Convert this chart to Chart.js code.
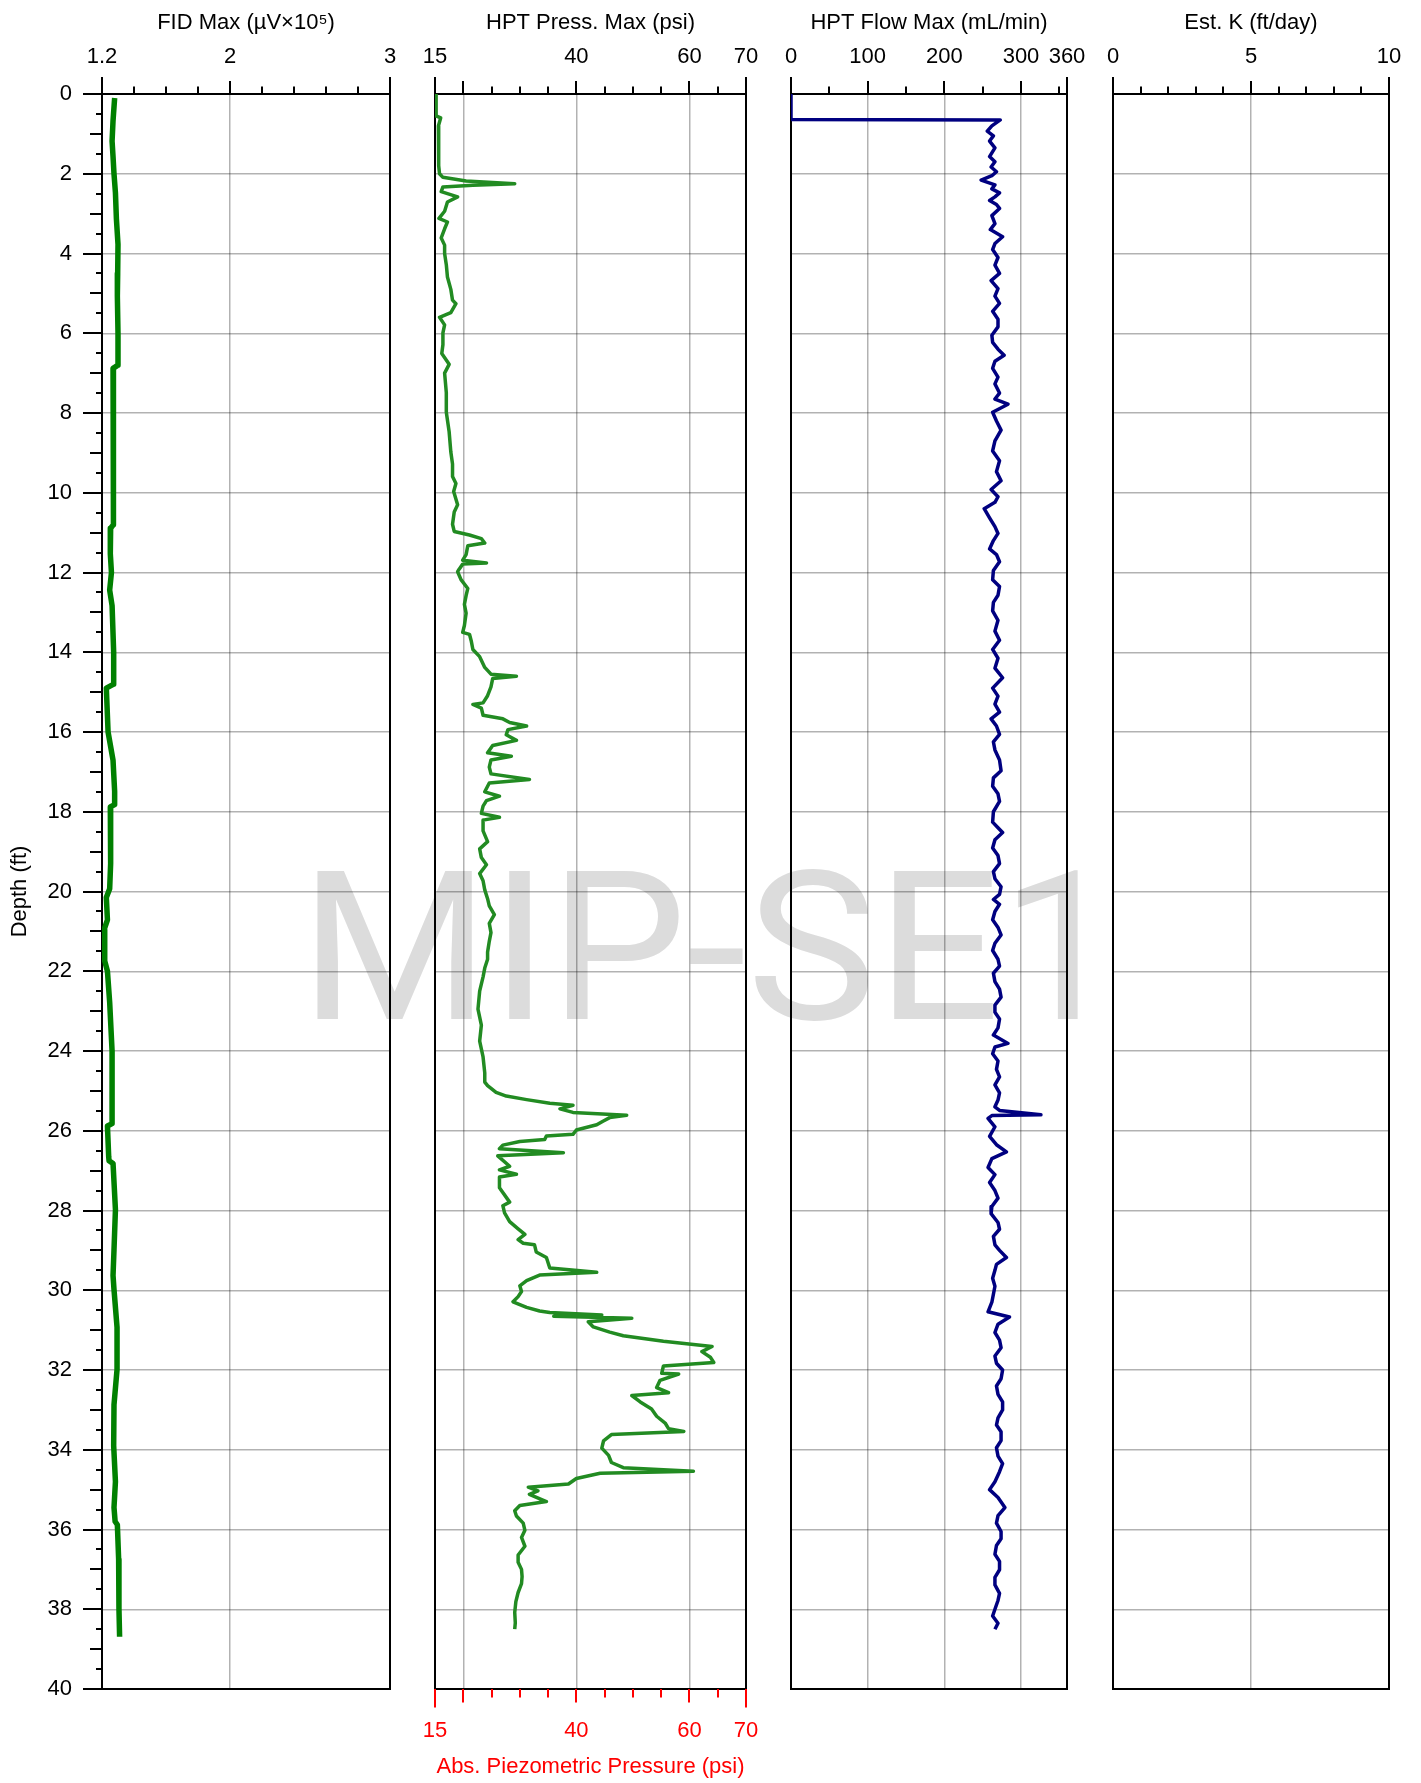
<!DOCTYPE html>
<html>
<head>
<meta charset="utf-8">
<title>MIP-SE1</title>
<script src="https://cdn.jsdelivr.net/npm/chart.js@4.4.1/dist/chart.umd.min.js"></script>
<style>
  html, body { margin: 0; padding: 0; background: #fff; }
  #log { position: relative; width: 1421px; height: 1783px; }
  #log canvas { position: absolute; left: 0; top: 0; }
</style>
</head>
<body>
<div id="log">
  <canvas id="fid" width="1421" height="1783"></canvas>
  <canvas id="press" width="1421" height="1783"></canvas>
  <canvas id="flow" width="1421" height="1783"></canvas>
  <canvas id="estk" width="1421" height="1783"></canvas>
</div>
<script>
'use strict';

// ---- log data (depth in ft) ----
const depthLabels = [0, 2, 4, 6, 8, 10, 12, 14, 16, 18, 20, 22, 24, 26, 28, 30, 32, 34, 36, 38, 40];

const fidTickLabels = [1.2, 2, 3];
const pressTickLabels = [15, 40, 60, 70];
const flowTickLabels = [0, 100, 200, 300, 360];
const kTickLabels = [0, 5, 10];

const fidDepth = [
  0.1, 0.67, 1.18, 1.57, 2.0, 2.48, 3.13, 3.77, 4.5, 5.07,
  6.0, 6.8, 6.88, 7.65, 8.95, 10.0, 10.8, 10.89, 11.53, 12.0,
  12.44, 12.83, 14.0, 14.8, 14.9, 16.0, 16.71, 17.49, 17.82, 17.88,
  19.3, 19.93, 20.15, 20.71, 20.96, 21.74, 22.0, 22.78, 24.0, 25.82,
  25.88, 26.66, 26.75, 26.82, 27.98, 28.99, 29.63, 29.98, 30.93, 31.99,
  32.87, 33.9, 34.8, 35.45, 35.8, 35.88, 36.75, 37.99, 38.69
];
const fidValue = [
  1.279, 1.269, 1.263, 1.269, 1.275, 1.284, 1.290, 1.300, 1.298, 1.296,
  1.300, 1.300, 1.269, 1.269, 1.273, 1.273, 1.271, 1.254, 1.252, 1.259,
  1.248, 1.263, 1.273, 1.273, 1.227, 1.238, 1.269, 1.279, 1.279, 1.252,
  1.254, 1.248, 1.227, 1.234, 1.213, 1.217, 1.234, 1.248, 1.263, 1.263,
  1.234, 1.242, 1.244, 1.269, 1.284, 1.275, 1.269, 1.275, 1.294, 1.294,
  1.275, 1.273, 1.284, 1.275, 1.282, 1.296, 1.304, 1.306, 1.310
];

const pressDepth = [
  0, 0.55, 0.6, 0.8, 1.0, 1.2, 1.5, 1.8, 2.0, 2.09,
  2.18, 2.25, 2.29, 2.33, 2.45, 2.58, 2.71, 2.94, 3.12, 3.21,
  3.38, 3.61, 3.79, 4.0, 4.28, 4.59, 4.9, 5.17, 5.26, 5.48,
  5.6, 5.79, 5.99, 6.29, 6.51, 6.78, 7.0, 7.49, 7.98, 8.47,
  8.98, 9.28, 9.59, 9.77, 9.97, 10.3, 10.48, 10.79, 10.97, 11.06,
  11.15, 11.26, 11.33, 11.55, 11.69, 11.76, 11.79, 11.91, 11.98, 12.18,
  12.4, 12.58, 12.8, 13.02, 13.33, 13.5, 13.55, 13.71, 13.93, 14.11,
  14.38, 14.55, 14.6, 14.66, 14.87, 15.09, 15.27, 15.31, 15.4, 15.58,
  15.67, 15.76, 15.85, 15.94, 16.07, 16.21, 16.34, 16.52, 16.61, 16.7,
  16.88, 17.05, 17.19, 17.28, 17.5, 17.61, 17.72, 17.86, 18.04, 18.14,
  18.21, 18.48, 18.75, 18.93, 19.15, 19.33, 19.55, 19.73, 19.96, 20.18,
  20.36, 20.58, 20.8, 21.03, 21.25, 21.52, 21.7, 21.92, 22.14, 22.5,
  22.95, 23.35, 23.75, 24.15, 24.55, 24.78, 24.87, 25.04, 25.13, 25.22,
  25.31, 25.36, 25.45, 25.54, 25.61, 25.67, 25.76, 25.85, 25.98, 26.09,
  26.13, 26.22, 26.27, 26.36, 26.45, 26.55, 26.63, 26.89, 26.98, 27.09,
  27.16, 27.43, 27.79, 27.88, 28.06, 28.28, 28.46, 28.6, 28.73, 28.82,
  28.86, 29.04, 29.18, 29.31, 29.44, 29.55, 29.62, 29.76, 29.89, 30.03,
  30.16, 30.29, 30.43, 30.52, 30.56, 30.62, 30.65, 30.7, 30.79, 30.92,
  31.05, 31.14, 31.28, 31.41, 31.54, 31.68, 31.81, 31.9, 32.08, 32.1,
  32.26, 32.44, 32.57, 32.64, 32.8, 32.98, 33.16, 33.33, 33.47, 33.54,
  33.62, 33.78, 33.96, 34.14, 34.32, 34.45, 34.54, 34.59, 34.72, 34.86,
  34.94, 35.03, 35.12, 35.3, 35.4, 35.53, 35.66, 35.84, 36.02, 36.2,
  36.42, 36.64, 36.82, 37.0, 37.18, 37.36, 37.58, 37.81, 38.08, 38.34,
  38.5
];
const pressValue = [
  15.2, 15.2, 16.0, 15.6, 15.7, 15.6, 15.7, 15.6, 15.8, 16.4,
  20.5, 29.1, 21.7, 16.4, 16.1, 19.0, 17.2, 16.7, 15.7, 17.2,
  16.7, 16.1, 16.7, 16.7, 17.0, 17.2, 17.8, 18.1, 18.7, 17.8,
  15.8, 16.7, 16.4, 16.4, 16.2, 17.5, 16.7, 17.0, 17.0, 17.5,
  17.8, 18.1, 18.1, 18.7, 18.3, 19.0, 18.4, 18.1, 18.4, 21.1,
  23.2, 23.8, 20.8, 20.5, 19.9, 24.1, 19.9, 19.3, 19.0, 19.6,
  20.8, 20.5, 20.2, 20.5, 20.2, 19.9, 21.1, 21.4, 21.7, 22.9,
  23.8, 24.9, 29.4, 25.2, 24.9, 24.3, 23.5, 21.7, 23.2, 23.5,
  27.0, 28.2, 31.2, 27.9, 27.6, 29.4, 25.2, 24.3, 28.5, 24.9,
  24.6, 24.9, 31.7, 24.6, 23.8, 26.4, 24.1, 23.5, 23.2, 26.4,
  23.5, 23.5, 24.3, 22.9, 23.2, 24.1, 22.9, 23.5, 23.8, 24.3,
  24.6, 25.5, 24.6, 24.9, 24.6, 24.3, 24.3, 23.8, 23.5, 22.9,
  22.6, 23.2, 22.9, 23.5, 23.8, 23.8, 24.3, 25.8, 27.6, 31.2,
  35.3, 39.4, 37.1, 39.4, 48.9, 45.9, 44.7, 43.6, 40.0, 39.4,
  34.7, 34.4, 30.0, 27.0, 26.4, 37.7, 26.1, 28.2, 26.4, 29.4,
  26.4, 26.4, 28.2, 27.0, 27.3, 28.2, 29.7, 30.9, 29.7, 30.6,
  32.6, 32.9, 34.7, 35.0, 35.3, 43.6, 33.5, 31.2, 30.0, 30.3,
  29.7, 28.8, 31.2, 33.5, 35.3, 44.5, 36.0, 49.8, 42.1, 43.0,
  45.9, 48.3, 55.4, 64.0, 62.2, 63.7, 64.3, 55.4, 55.1, 58.1,
  54.8, 54.2, 56.3, 49.8, 51.3, 53.3, 54.2, 55.7, 56.3, 59.0,
  46.2, 44.8, 44.5, 45.7, 46.2, 48.3, 60.7, 44.2, 40.0, 38.6,
  31.5, 33.2, 31.7, 34.7, 30.0, 29.1, 29.4, 30.6, 30.9, 30.3,
  30.9, 29.7, 29.7, 30.3, 30.4, 30.3, 29.7, 29.3, 29.1, 29.2,
  29.1
];

const flowDepth = [
  0, 0.64, 0.65, 0.8, 0.93, 1.05, 1.18, 1.35, 1.57, 1.7,
  1.83, 1.95, 2.05, 2.16, 2.28, 2.38, 2.48, 2.58, 2.67, 2.77,
  2.87, 3.05, 3.25, 3.4, 3.58, 3.75, 3.9, 4.1, 4.29, 4.5,
  4.68, 4.88, 5.07, 5.25, 5.45, 5.65, 5.84, 6.05, 6.23, 6.4,
  6.55, 6.7, 6.88, 7.1, 7.27, 7.5, 7.65, 7.78, 7.98, 8.2,
  8.43, 8.7, 8.95, 9.2, 9.47, 9.7, 9.92, 10.1, 10.24, 10.4,
  10.63, 10.85, 11.02, 11.2, 11.41, 11.55, 11.73, 11.95, 12.18, 12.35,
  12.57, 12.75, 12.96, 13.2, 13.47, 13.7, 13.93, 14.15, 14.4, 14.64,
  14.9, 15.1, 15.3, 15.5, 15.67, 15.85, 16.06, 16.25, 16.45, 16.7,
  16.97, 17.15, 17.36, 17.55, 17.74, 18.0, 18.26, 18.4, 18.52, 18.7,
  18.91, 19.1, 19.3, 19.5, 19.68, 19.88, 20.07, 20.2, 20.32, 20.5,
  20.71, 20.9, 21.09, 21.3, 21.48, 21.7, 21.87, 22.05, 22.26, 22.45,
  22.65, 22.85, 23.03, 23.2, 23.42, 23.6, 23.81, 23.9, 24.07, 24.25,
  24.46, 24.65, 24.85, 25.05, 25.23, 25.4, 25.49, 25.6, 25.62, 25.69,
  25.9, 26.14, 26.35, 26.53, 26.7, 26.92, 27.1, 27.3, 27.5, 27.69,
  27.9, 28.08, 28.3, 28.47, 28.65, 28.86, 29.0, 29.18, 29.35, 29.5,
  29.7, 29.9, 30.1, 30.3, 30.54, 30.67, 30.85, 31.06, 31.25, 31.44,
  31.65, 31.83, 32.0, 32.22, 32.4, 32.61, 32.8, 33.0, 33.2, 33.38,
  33.55, 33.77, 33.95, 34.16, 34.35, 34.55, 34.8, 35.0, 35.2, 35.45,
  35.65, 35.84, 36.05, 36.23, 36.4, 36.62, 36.8, 37.01, 37.2, 37.39,
  37.6, 37.78, 38.0, 38.17, 38.35, 38.5
];
const flowValue = [
  0, 0, 273, 262, 256, 264, 259, 266, 259, 266,
  261, 268, 262, 248, 266, 262, 272, 266, 259, 268,
  272, 262, 266, 260, 276, 266, 263, 270, 266, 272,
  261, 270, 266, 272, 263, 270, 270, 262, 263, 270,
  278, 266, 263, 270, 266, 272, 266, 283, 263, 268,
  274, 266, 263, 272, 268, 274, 261, 270, 266, 252,
  259, 266, 270, 264, 259, 268, 272, 264, 263, 272,
  270, 264, 263, 270, 266, 272, 263, 270, 266, 276,
  263, 270, 266, 272, 261, 268, 272, 264, 266, 272,
  274, 264, 263, 270, 272, 264, 263, 270, 276, 266,
  263, 270, 272, 264, 266, 274, 272, 264, 272, 266,
  263, 270, 274, 266, 263, 270, 272, 264, 266, 272,
  274, 266, 266, 272, 270, 264, 283, 266, 263, 270,
  268, 272, 266, 272, 270, 266, 272, 326, 262, 257,
  266, 259, 268, 281, 262, 257, 266, 259, 266, 270,
  262, 261, 270, 272, 264, 266, 272, 281, 268, 266,
  263, 266, 264, 262, 257, 285, 270, 266, 272, 274,
  266, 268, 276, 274, 268, 270, 276, 276, 270, 268,
  274, 274, 268, 270, 276, 272, 266, 259, 270, 279,
  270, 268, 274, 274, 268, 266, 272, 272, 266, 266,
  272, 270, 266, 263, 270, 266
];

// ---- page geometry ----
const W = 1421, H = 1783;
const PLOT_TOP = 94, PLOT_BOTTOM = 1689;
const FONT = "'Liberation Sans', Arial, Helvetica, sans-serif";
const GRID = 'rgba(0,0,0,0.3)';
const RED = '#ff0000';

Chart.defaults.font.family = FONT;
Chart.defaults.font.size = 22;
Chart.defaults.color = '#000';

function steps(min, max, step) {
  const out = [];
  for (let v = min; v <= max + 1e-9; v += step) out.push(Math.round(v * 1000) / 1000);
  return out;
}

function points(depths, values) {
  return depths.map((d, i) => ({ x: values[i], y: d }));
}

// tick lengths: panel edge, labelled/gridded value, plain
function marksFor(values, edges, majors, lens) {
  return values.map(v => [v, edges.includes(v) ? lens[0] : majors.includes(v) ? lens[1] : lens[2]]);
}

// black box round each track
const frame = {
  id: 'frame',
  beforeDatasetsDraw(chart) {
    const a = chart.chartArea, ctx = chart.ctx;
    ctx.save();
    ctx.strokeStyle = '#000';
    ctx.lineWidth = 2;
    ctx.strokeRect(a.left, a.top, a.right - a.left, a.bottom - a.top);
    ctx.restore();
  }
};

// tick marks of varying length, placed with the scale's own pixel mapping
function tickMarks(specs) {
  return {
    id: 'tickMarks',
    afterDraw(chart) {
      const ctx = chart.ctx, a = chart.chartArea;
      ctx.save();
      ctx.lineWidth = 2;
      specs.forEach(s => {
        const scale = chart.scales[s.scale];
        ctx.strokeStyle = s.color || '#000';
        s.marks.forEach(([v, len]) => {
          const p = Math.round(scale.getPixelForValue(v));
          ctx.beginPath();
          if (s.side === 'top') { ctx.moveTo(p, a.top); ctx.lineTo(p, a.top - len); }
          else if (s.side === 'bottom') { ctx.moveTo(p, a.bottom); ctx.lineTo(p, a.bottom + len); }
          else { ctx.moveTo(a.left, p); ctx.lineTo(a.left - len, p); }
          ctx.stroke();
        });
      });
      ctx.restore();
    }
  };
}

// borehole name across the tracks, behind everything
const watermark = {
  id: 'watermark',
  beforeDraw(chart) {
    const ctx = chart.ctx;
    ctx.save();
    ctx.translate(711, 1019);
    ctx.scale(1, 0.95);
    ctx.font = "218px Roboto, 'Liberation Sans', sans-serif";
    ctx.fillStyle = '#dcdcdc';
    ctx.textAlign = 'center';
    ctx.textBaseline = 'alphabetic';
    ctx.fillText('MIP-SE1', 0, 0);
    ctx.restore();
  }
};

function valueAxis(o) {
  return {
    type: 'linear',
    axis: 'x',
    position: o.position,
    min: o.min,
    max: o.max,
    afterBuildTicks: s => { s.ticks = o.ticks.map(v => ({ value: v })); },
    afterFit: s => { s.height = o.height; s.paddingLeft = 0; s.paddingRight = 0; },
    grid: {
      drawTicks: false,
      drawOnChartArea: o.gridLines.length > 0,
      lineWidth: 1.5,
      color: c => (c.tick && o.gridLines.includes(c.tick.value)) ? GRID : 'rgba(0,0,0,0)'
    },
    border: { display: false },
    ticks: {
      autoSkip: false,
      maxRotation: 0,
      minRotation: 0,
      padding: o.position === 'top' ? 24 : 29,
      color: o.color || '#000',
      callback: v => o.labels.includes(v) ? String(v) : ''
    },
    title: {
      display: true,
      text: o.title,
      color: o.color || '#000',
      padding: o.position === 'top' ? { top: 10, bottom: 0 } : { top: 0, bottom: 3 }
    }
  };
}

function depthAxis(withLabels) {
  return {
    type: 'linear',
    position: 'left',
    reverse: true,
    min: 0,
    max: 40,
    afterBuildTicks: s => { s.ticks = steps(0, 40, withLabels ? 0.5 : 2).map(v => ({ value: v })); },
    afterFit: s => { s.width = withLabels ? 100 : 0; s.paddingTop = 0; s.paddingBottom = 0; },
    grid: {
      drawTicks: false,
      lineWidth: 1.5,
      color: c => (c.tick && c.tick.value % 2 === 0) ? GRID : 'rgba(0,0,0,0)'
    },
    border: { display: false },
    ticks: {
      display: withLabels,
      autoSkip: false,
      padding: 30,
      callback: v => depthLabels.includes(v) ? String(v) : ''
    },
    title: { display: withLabels, text: 'Depth (ft)', padding: { top: 5, bottom: 0 } }
  };
}

function makeTrack(id, t) {
  const scales = { x: t.top, y: depthAxis(t.depthLabels) };
  if (t.bottom) scales.x2 = t.bottom;
  const yWidth = t.depthLabels ? 100 : 0;
  return new Chart(document.getElementById(id), {
    type: 'scatter',
    data: { datasets: t.datasets },
    options: {
      responsive: false,
      animation: false,
      events: [],
      layout: {
        padding: {
          left: t.left - yWidth,
          right: W - t.right,
          top: 0,
          bottom: t.bottom ? 0 : H - PLOT_BOTTOM
        }
      },
      plugins: { legend: { display: false }, tooltip: { enabled: false } },
      scales: scales
    },
    plugins: (t.extra || []).concat([frame, tickMarks(t.marks)])
  });
}

function trace(depths, values, color, width) {
  return {
    data: points(depths, values),
    showLine: true,
    borderColor: color,
    borderWidth: width,
    pointRadius: 0,
    tension: 0,
    borderJoinStyle: 'round'
  };
}

const depthMarks = steps(0, 40, 0.5).map(v => [v, v % 2 === 0 ? 19 : v % 1 === 0 ? 12 : 6]);
const TOP_LENS = [17, 13, 7.5];
const BOTTOM_LENS = [18.5, 13.5, 8.5];

// FID
const fidTicks = steps(1.2, 3, 0.2);
makeTrack('fid', {
  left: 102, right: 390, depthLabels: true,
  top: valueAxis({ position: 'top', min: 1.2, max: 3, ticks: fidTicks, labels: fidTickLabels,
    gridLines: [2], height: PLOT_TOP, title: 'FID Max (\u00b5V\u00d710\u2075)' }),
  datasets: [trace(fidDepth, fidValue, '#008000', 5.5)],
  marks: [
    { scale: 'x', side: 'top', marks: marksFor(fidTicks, [1.2, 3], [2], TOP_LENS) },
    { scale: 'y', side: 'left', marks: depthMarks }
  ],
  extra: [watermark]
});

// HPT pressure, with the red piezometric axis underneath
const pressTicks = steps(15, 70, 5);
makeTrack('press', {
  left: 435, right: 746, depthLabels: false,
  top: valueAxis({ position: 'top', min: 15, max: 70, ticks: pressTicks, labels: pressTickLabels,
    gridLines: [20, 40, 60], height: PLOT_TOP, title: 'HPT Press. Max (psi)' }),
  bottom: valueAxis({ position: 'bottom', min: 15, max: 70, ticks: pressTicks, labels: pressTickLabels,
    gridLines: [], height: H - PLOT_BOTTOM, title: 'Abs. Piezometric Pressure (psi)', color: RED }),
  datasets: [trace(pressDepth, pressValue, '#228b22', 3.5)],
  marks: [
    { scale: 'x', side: 'top', marks: marksFor(pressTicks, [15, 70], [20, 40, 60], TOP_LENS) },
    { scale: 'x2', side: 'bottom', color: RED, marks: marksFor(pressTicks, [15, 70], [20, 40, 60], BOTTOM_LENS) }
  ]
});

// HPT flow
const flowTicks = steps(0, 350, 50).concat([360]);
makeTrack('flow', {
  left: 791, right: 1067, depthLabels: false,
  top: valueAxis({ position: 'top', min: 0, max: 360, ticks: flowTicks, labels: flowTickLabels,
    gridLines: [100, 200, 300], height: PLOT_TOP, title: 'HPT Flow Max (mL/min)' }),
  datasets: [trace(flowDepth, flowValue, '#000080', 3.5)],
  marks: [
    { scale: 'x', side: 'top', marks: marksFor(flowTicks, [0, 360], [100, 200, 300], TOP_LENS) }
  ]
});

// Estimated K (no values logged)
const kTicks = steps(0, 10, 1);
makeTrack('estk', {
  left: 1113, right: 1389, depthLabels: false,
  top: valueAxis({ position: 'top', min: 0, max: 10, ticks: kTicks, labels: kTickLabels,
    gridLines: [5], height: PLOT_TOP, title: 'Est. K (ft/day)' }),
  datasets: [],
  marks: [
    { scale: 'x', side: 'top', marks: marksFor(kTicks, [0, 10], [5], TOP_LENS) }
  ]
});
</script>
</body>
</html>
